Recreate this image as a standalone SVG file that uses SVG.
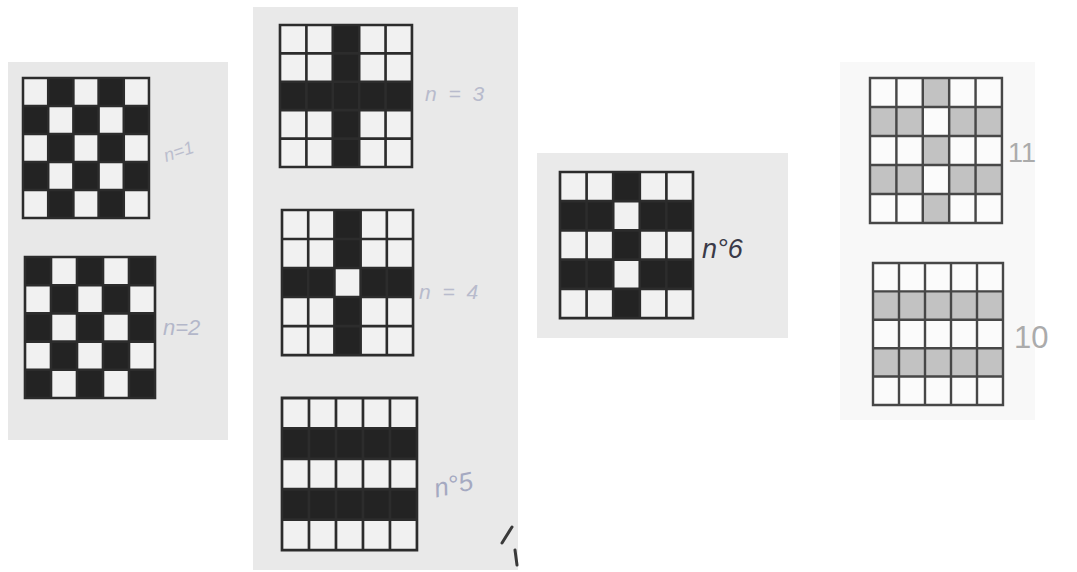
<svg xmlns="http://www.w3.org/2000/svg" width="1077" height="572" viewBox="0 0 1077 572">
<style>
.paper{stroke:none}
.w{fill:#f1f1f1}
.b{fill:#232323}
.g{fill:#c2c2c2}
.ln{fill:none;stroke:#2c2c2c;stroke-width:2.6;vector-effect:non-scaling-stroke}
.lng{fill:none;stroke:#474747;stroke-width:2.4;vector-effect:non-scaling-stroke}
.hand{font-family:"Liberation Sans",sans-serif;font-style:italic;fill:#9ea3bd}
.ink{font-family:"Liberation Sans",sans-serif;font-style:italic;fill:#3a3a48}
.pencil{font-family:"Liberation Sans",sans-serif;font-weight:300;fill:#ababab}
</style>
<defs>
<path id="gl" d="M0 0H130V140H0Z M26 0V140 M52 0V140 M78 0V140 M104 0V140 M0 28H130 M0 56H130 M0 84H130 M0 112H130"/>
<rect id="bg" x="0" y="0" width="130" height="140"/>
</defs>
<rect width="1077" height="572" fill="#ffffff"/>
<g id="papers">
<rect class="paper" x="8" y="62" width="220" height="378" fill="#e8e8e8"/>
<rect class="paper" x="253" y="7" width="265" height="563" fill="#e9e9e9"/>
<rect class="paper" x="537" y="153" width="251" height="185" fill="#eaeaea"/>
<rect class="paper" x="840" y="62" width="195" height="358" fill="#f8f8f8"/>
</g>
<g id="grid1" transform="translate(23,78) scale(0.969,1)">
<use href="#bg" class="w"/>
<rect class="b" x="26" y="0" width="26" height="28"/><rect class="b" x="78" y="0" width="26" height="28"/>
<rect class="b" x="0" y="28" width="26" height="28"/><rect class="b" x="52" y="28" width="26" height="28"/><rect class="b" x="104" y="28" width="26" height="28"/>
<rect class="b" x="26" y="56" width="26" height="28"/><rect class="b" x="78" y="56" width="26" height="28"/>
<rect class="b" x="0" y="84" width="26" height="28"/><rect class="b" x="52" y="84" width="26" height="28"/><rect class="b" x="104" y="84" width="26" height="28"/>
<rect class="b" x="26" y="112" width="26" height="28"/><rect class="b" x="78" y="112" width="26" height="28"/>
<use href="#gl" class="ln"/>
</g>
<g id="grid2" transform="translate(25,257) scale(1,1.007)">
<use href="#bg" class="w"/>
<rect class="b" x="0" y="0" width="26" height="28"/><rect class="b" x="52" y="0" width="26" height="28"/><rect class="b" x="104" y="0" width="26" height="28"/>
<rect class="b" x="26" y="28" width="26" height="28"/><rect class="b" x="78" y="28" width="26" height="28"/>
<rect class="b" x="0" y="56" width="26" height="28"/><rect class="b" x="52" y="56" width="26" height="28"/><rect class="b" x="104" y="56" width="26" height="28"/>
<rect class="b" x="26" y="84" width="26" height="28"/><rect class="b" x="78" y="84" width="26" height="28"/>
<rect class="b" x="0" y="112" width="26" height="28"/><rect class="b" x="52" y="112" width="26" height="28"/><rect class="b" x="104" y="112" width="26" height="28"/>
<use href="#gl" class="ln"/>
</g>
<g id="grid3" transform="translate(280,25) scale(1.015,1.014)">
<use href="#bg" class="w"/>
<rect class="b" x="52" y="0" width="26" height="140"/>
<rect class="b" x="0" y="56" width="130" height="28"/>
<use href="#gl" class="ln"/>
</g>
<g id="grid4" transform="translate(282,210) scale(1.008,1.036)">
<use href="#bg" class="w"/>
<rect class="b" x="52" y="0" width="26" height="140"/>
<rect class="b" x="0" y="56" width="130" height="28"/>
<rect class="w" x="52" y="56" width="26" height="28"/>
<use href="#gl" class="ln"/>
</g>
<g id="grid5" transform="translate(282,398) scale(1.038,1.086)">
<use href="#bg" class="w"/>
<rect class="b" x="0" y="28" width="130" height="28"/>
<rect class="b" x="0" y="84" width="130" height="28"/>
<use href="#gl" class="ln"/>
</g>
<g id="grid6" transform="translate(560,172) scale(1.023,1.043)">
<use href="#bg" class="w"/>
<rect class="b" x="52" y="0" width="26" height="28"/><rect class="b" x="52" y="56" width="26" height="28"/><rect class="b" x="52" y="112" width="26" height="28"/>
<rect class="b" x="0" y="28" width="52" height="28"/><rect class="b" x="78" y="28" width="52" height="28"/>
<rect class="b" x="0" y="84" width="52" height="28"/><rect class="b" x="78" y="84" width="52" height="28"/>
<use href="#gl" class="ln"/>
</g>
<g id="grid7" transform="translate(870,78) scale(1.015,1.036)">
<use href="#bg" fill="#fbfbfb"/>
<rect class="g" x="52" y="0" width="26" height="28"/><rect class="g" x="52" y="56" width="26" height="28"/><rect class="g" x="52" y="112" width="26" height="28"/>
<rect class="g" x="0" y="28" width="52" height="28"/><rect class="g" x="78" y="28" width="52" height="28"/>
<rect class="g" x="0" y="84" width="52" height="28"/><rect class="g" x="78" y="84" width="52" height="28"/>
<use href="#gl" class="lng"/>
</g>
<g id="grid8" transform="translate(873,263) scale(1,1.014)">
<use href="#bg" fill="#fbfbfb"/>
<rect class="g" x="0" y="28" width="130" height="28"/>
<rect class="g" x="0" y="84" width="130" height="28"/>
<use href="#gl" class="lng"/>
</g>
<g id="labels">
<text class="hand" x="163" y="157" font-size="18" opacity="0.6" transform="rotate(-18 180 150)">n=1</text>
<text class="hand" x="163" y="335" font-size="22" opacity="0.7">n=2</text>
<text class="hand" x="425" y="101" font-size="21" letter-spacing="3" opacity="0.65">n = 3</text>
<text class="hand" x="419" y="299" font-size="21" letter-spacing="3" opacity="0.65">n = 4</text>
<text class="hand" x="432" y="491" font-size="26" opacity="0.9" transform="rotate(-12 465 475)">n°5</text>
<text class="ink" x="702" y="258" font-size="27">n°6</text>
<text class="pencil" x="1008" y="162" font-size="27">11</text>
<text class="pencil" x="1014" y="348" font-size="31">10</text>
</g>
<path d="M512 527 L502 543 M515 550 L517 565" fill="none" stroke="#3a3a3a" stroke-width="3" stroke-linecap="round"/>
</svg>
